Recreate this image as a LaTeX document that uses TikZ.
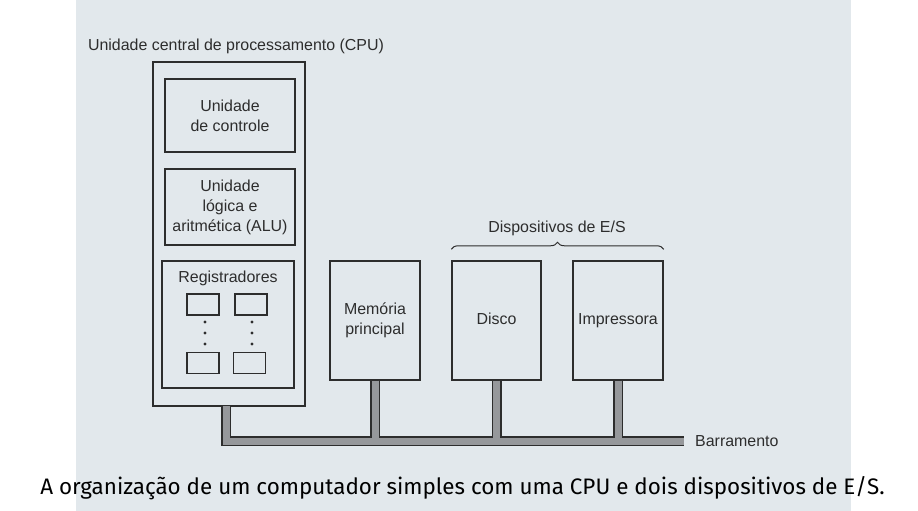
\documentclass[tikz,border=0pt]{standalone}
\usepackage{fontspec}
\setmainfont{Liberation Sans}
\newfontfamily\captionfont{Fira Sans}
\usetikzlibrary{decorations.pathreplacing}
\definecolor{photo}{RGB}{226,232,236}
\definecolor{ink}{RGB}{45,45,45}
\definecolor{busgray}{RGB}{150,152,155}
\begin{document}
\begin{tikzpicture}[
    x=1bp, y=-1bp,
    box/.style={draw=ink, line width=1.4bp, align=center, inner sep=0pt, text=ink, font=\fontsize{16}{20}\selectfont},
    regbox/.style={draw=ink, line width=1.3bp, minimum width=32bp, minimum height=21bp, inner sep=0pt},
    dot/.style={circle, fill=ink, inner sep=0pt, minimum size=3.2bp},
    label/.style={text=ink, font=\fontsize{16}{20}\selectfont, inner sep=0pt}
  ]
  \useasboundingbox (0,0) rectangle (918,511);
  \fill[photo] (76,0) rectangle (851,511);

  % CPU and its parts
  \node[label] (cputitle) at (236,46) {Unidade central de processamento (CPU)};
  \node[box, minimum width=152bp, minimum height=344bp] (cpu) at (229,234) {};
  \node[box, minimum width=130bp, minimum height=73bp] (control) at (230,115.5) {Unidade\\de controle};
  \node[box, minimum width=130bp, minimum height=76bp] (alu) at (230,207) {Unidade\\lógica e\\aritmética (ALU)};
  \node[box, minimum width=132bp, minimum height=127bp] (reg) at (228,324.5) {};
  \node[label] (regtitle) at (228,278) {Registradores};

  % registers with dots between them
  \node[regbox] (r1) at (203,304.5) {};
  \node[regbox] (r2) at (251,304.5) {};
  \node[regbox] (r3) at (203,363) {};
  \node[regbox] (r4) at (249.5,363) {};
  \foreach \y in {322,333,344} {
    \node[dot] at (205,\y) {};
    \node[dot] at (252,\y) {};
  }

  % memory and I/O devices
  \node[box, minimum width=90bp, minimum height=119bp] (mem) at (375,320.5) {Memória\\principal};
  \node[box, minimum width=89bp, minimum height=119bp] (disco) at (496.5,320.5) {Disco\strut};
  \node[box, minimum width=90bp, minimum height=119bp] (impr) at (618,320.5) {Impressora\strut};

  % brace over the I/O devices
  \draw[ink, line width=1bp, decorate, decoration={brace, amplitude=7bp}]
    ([yshift=11bp]disco.north west) -- ([yshift=11bp]impr.north east);
  \node[label] (es) at (557,228) {Dispositivos de E/S};

  % bus: dark outline first, grey fill on top
  \coordinate (cpubus) at (226,406);
  \coordinate (busend) at (684,441);
  \foreach \w/\c in {10/ink, 7/busgray} {
    \draw[line width=\w bp, \c, line join=miter] (cpubus) |- (busend);
    \foreach \d in {mem, disco, impr}
      \draw[line width=\w bp, \c] (\d.south) -- (\d.south |- busend);
  }
  \node[label, anchor=west] (bus) at (695,441) {Barramento};

  % caption
  \node[font=\captionfont\fontsize{22.5}{26}\selectfont, inner sep=0pt] (caption) at (462.5,488)
    {A organização de um computador simples com uma CPU e dois dispositivos de E/S.};

  \end{tikzpicture}
\end{document}
